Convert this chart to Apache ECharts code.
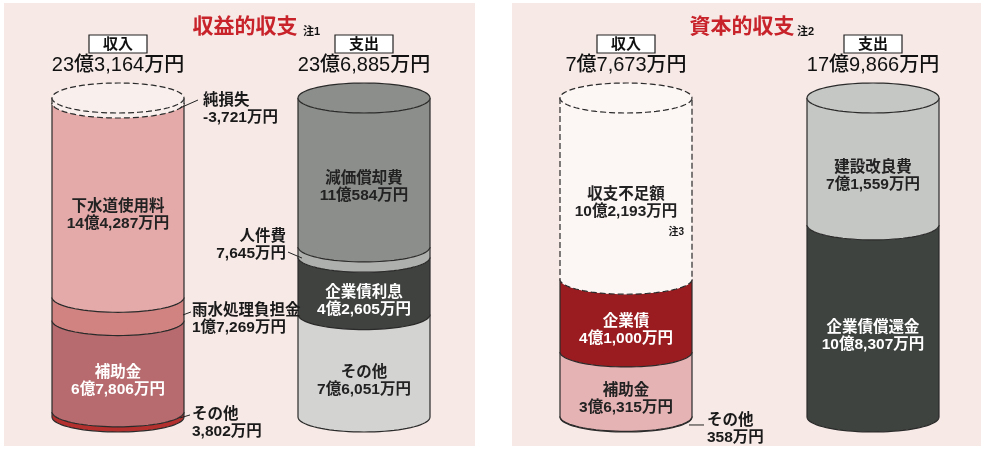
<!DOCTYPE html>
<html>
<head>
<meta charset="utf-8">
<script src="https://cdn.jsdelivr.net/npm/echarts@6/dist/echarts.min.js"></script>
<style>
html,body{margin:0;padding:0;background:#fff;}
#chart{width:985px;height:449px;}
</style>
</head>
<body>
<div id="chart"></div>
<script>
// 収入 / 支出
var sides = ['収入', '支出'];

// 収益的収支 (万円) 下から順
var revIncomeNames = ['その他', '補助金', '雨水処理負担金', '下水道使用料', '純損失'];
var revIncomeValues = [3802, 67806, 17269, 144287, -3721];
var revExpenseNames = ['その他', '企業債利息', '人件費', '減価償却費'];
var revExpenseValues = [76051, 42605, 7645, 110584];

// 資本的収支 (万円)
var capIncomeNames = ['その他', '補助金', '企業債', '収支不足額'];
var capIncomeValues = [358, 36315, 41000, 102193];
var capExpenseNames = ['企業債償還金', '建設改良費'];
var capExpenseValues = [108307, 71559];

var FONT = '"Liberation Sans", "Noto Sans CJK JP", sans-serif';
var RX = 66, RY = 15;

function yen(v) {
    var neg = v < 0;
    v = Math.abs(v);
    var oku = Math.floor(v / 10000), man = v % 10000;
    var m = man >= 1000 ? Math.floor(man / 1000) + ',' + ('00' + (man % 1000)).slice(-3) : String(man);
    return (neg ? '-' : '') + (oku > 0 ? oku + '億' : '') + m + '万円';
}
function sum(arr, skipLast) {
    var s = 0;
    for (var i = 0; i < arr.length - (skipLast ? 1 : 0); i++) s += Math.abs(arr[i]);
    return s;
}

// 楕円の下半分 (左→右)
function halfArc(cx, cy, reverse) {
    var pts = [];
    for (var k = 0; k <= 40; k++) {
        var a = Math.PI - Math.PI * k / 40;
        pts.push([cx + RX * Math.cos(a), cy + RY * Math.sin(a)]);
    }
    if (reverse) pts.reverse();
    return pts;
}
function fullEllipse(cx, cy) {
    var pts = [];
    for (var k = 0; k < 80; k++) {
        var a = Math.PI * 2 * k / 80;
        pts.push([cx + RX * Math.cos(a), cy + RY * Math.sin(a)]);
    }
    return pts;
}

function cylinder(names, values, xi, gi, colors, textColors, dashedTop, labels, note) {
    var data = [], base = 0;
    for (var i = 0; i < values.length; i++) {
        var h = Math.abs(values[i]);
        data.push({ value: [xi, base, base + h, i] });
        base += h;
    }
    return {
        type: 'custom',
        xAxisIndex: gi,
        yAxisIndex: gi,
        silent: true,
        data: data,
        renderItem: function (params, api) {
            var i = api.value(3);
            var pb = api.coord([api.value(0), api.value(1)]);
            var pt = api.coord([api.value(0), api.value(2)]);
            var cx = pb[0], yb = pb[1], yt = pt[1];
            var last = i === values.length - 1;
            var dashed = dashedTop && last;
            var lineStyle = { stroke: '#2a2a2a', lineWidth: 1.2, fill: null, lineDash: dashed ? [6, 3] : null };
            var children = [];
            children.push({
                type: 'polygon',
                shape: { points: halfArc(cx, yt).concat(halfArc(cx, yb, true)) },
                style: { fill: colors[i] }
            });
            children.push({
                type: 'polyline',
                shape: { points: [[cx - RX, yt]].concat(halfArc(cx, yb)).concat([[cx + RX, yt]]) },
                style: lineStyle
            });
            if (last) {
                children.push({
                    type: 'polygon',
                    shape: { points: fullEllipse(cx, yt) },
                    style: { fill: colors[i], stroke: '#2a2a2a', lineWidth: 1.2, lineDash: dashed ? [6, 3] : null }
                });
            }
            var lab = labels[i] || {};
            var text = names[i] + '\n' + yen(values[i]);
            var ymid = (yt + yb) / 2;
            if (lab.out) {
                var ax = lab.left ? cx - RX : cx + RX;
                children.push({
                    type: 'line',
                    shape: { x1: ax + lab.lead[0], y1: ymid + lab.lead[1], x2: ax + lab.lead[2], y2: ymid + lab.lead[3] },
                    style: { stroke: '#222', lineWidth: 1 }
                });
                children.push({
                    type: 'text', z2: 10,
                    x: ax + lab.at[0], y: ymid + lab.at[1],
                    style: { text: text, fill: '#1a1a1a', font: 'bold 15.5px ' + FONT, lineHeight: 17,
                             align: lab.left ? 'right' : 'left', verticalAlign: 'middle' }
                });
            } else {
                children.push({
                    type: 'text', z2: 10,
                    x: cx, y: ymid + RY,
                    style: { text: text, fill: textColors[i], font: 'bold 15.5px ' + FONT, lineHeight: 17,
                             align: 'center', verticalAlign: 'middle' }
                });
                if (note && note[i]) {
                    children.push({
                        type: 'text', z2: 10,
                        x: cx + 58, y: ymid + RY + 29,
                        style: { text: note[i], fill: '#1a1a1a', font: 'bold 10px ' + FONT, align: 'right', verticalAlign: 'middle' }
                    });
                }
            }
            return { type: 'group', children: children };
        }
    };
}

function header(cx, label, total) {
    return [
        { type: 'rect', shape: { x: cx - 29, y: 35, width: 58, height: 18 },
          style: { fill: '#fff', stroke: '#222', lineWidth: 1.2 } },
        { type: 'text', x: cx, y: 44.5,
          style: { text: label, fill: '#111', font: 'bold 15px ' + FONT, align: 'center', verticalAlign: 'middle' } },
        { type: 'text', x: cx, y: 65,
          style: { text: yen(total), fill: '#111', font: '500 20px ' + FONT, align: 'center', verticalAlign: 'middle' } }
    ];
}

var revMax = Math.max(sum(revIncomeValues), sum(revExpenseValues));
var capMax = Math.max(sum(capIncomeValues), sum(capExpenseValues));

var graphics = [
    { type: 'rect', shape: { x: 4, y: 3, width: 471, height: 443 }, style: { fill: '#f6e9e6' } },
    { type: 'rect', shape: { x: 512, y: 3, width: 469, height: 443 }, style: { fill: '#f6e9e6' } },
    { type: 'text', x: 245, y: 27, style: { text: '収益的収支', fill: '#c8232a', font: 'bold 21px ' + FONT, align: 'center', verticalAlign: 'middle' } },
    { type: 'text', x: 303, y: 32, style: { text: '注1', fill: '#111', font: 'bold 11px ' + FONT, align: 'left', verticalAlign: 'middle' } },
    { type: 'text', x: 742, y: 27, style: { text: '資本的収支', fill: '#c8232a', font: 'bold 21px ' + FONT, align: 'center', verticalAlign: 'middle' } },
    { type: 'text', x: 797, y: 32, style: { text: '注2', fill: '#111', font: 'bold 11px ' + FONT, align: 'left', verticalAlign: 'middle' } }
]
.concat(header(118, sides[0], sum(revIncomeValues, true)))
.concat(header(364, sides[1], sum(revExpenseValues)))
.concat(header(626, sides[0], sum(capIncomeValues, true)))
.concat(header(873, sides[1], sum(capExpenseValues)));

var myChart = echarts.init(document.getElementById('chart'));
var option = {
    backgroundColor: '#ffffff',
    animation: false,
    graphic: { elements: graphics },
    grid: [
        { left: 118, right: 621, top: 98, bottom: 32 },
        { left: 626, right: 112, top: 98, bottom: 32 }
    ],
    xAxis: [
        { type: 'category', gridIndex: 0, data: sides, boundaryGap: false, show: false },
        { type: 'category', gridIndex: 1, data: sides, boundaryGap: false, show: false }
    ],
    yAxis: [
        { type: 'value', gridIndex: 0, min: 0, max: revMax, show: false },
        { type: 'value', gridIndex: 1, min: 0, max: capMax, show: false }
    ],
    series: [
        cylinder(revIncomeNames, revIncomeValues, 0, 0,
            ['#b3302e', '#b76b6e', '#d08381', '#e3aaa9', '#f9f0ee'],
            ['#fff', '#fff', '#222', '#222', '#222'], true,
            [{ out: true, lead: [-4, 3.5, 6, 0.5], at: [8, 9] }, {},
             { out: true, lead: [-1, 6, 7, 3], at: [8, 10.5] }, {},
             { out: true, lead: [-4, 7.5, 14, -0.5], at: [19, 8.5] }]),
        cylinder(revExpenseNames, revExpenseValues, 1, 0,
            ['#d3d4d2', '#3f423f', '#aeb0ad', '#8b8e8a'],
            ['#222', '#fff', '#222', '#222'], false,
            [{}, {}, { out: true, left: true, lead: [-10, 0, 4, 6], at: [-12, -7] }, {}]),
        cylinder(capIncomeNames, capIncomeValues, 0, 1,
            ['#c08688', '#e6b3b4', '#9a1c20', '#fcf6f5'],
            ['#222', '#222', '#fff', '#222'], true,
            [{ out: true, lead: [-3, 8.3, 12, 8.3], at: [15, 13] }, {}, {}, {}],
            [null, null, null, '注3']),
        cylinder(capExpenseNames, capExpenseValues, 1, 1,
            ['#3e433f', '#c5c7c4'],
            ['#fff', '#222'], false,
            [{}, {}])
    ]
};
myChart.setOption(option);
</script>
</body>
</html>
